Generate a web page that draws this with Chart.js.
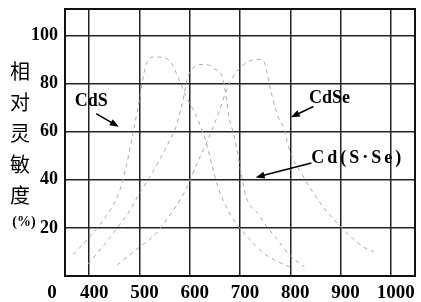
<!DOCTYPE html>
<html>
<head>
<meta charset="utf-8">
<script src="https://cdn.jsdelivr.net/npm/chart.js@4.4.1/dist/chart.umd.min.js"></script>
<style>
  html, body { margin: 0; padding: 0; background: #fff; }
  #wrap { width: 421px; height: 302px; position: relative; }
</style>
</head>
<body>
<div id="wrap"><canvas id="chart"></canvas></div>
<script>
// axis ticks
var xTicks = [400, 500, 600, 700, 800, 900, 1000];
var yTicks = [20, 40, 60, 80, 100];

// CdS
var cdsWave  = [368, 382, 400, 420, 442, 460, 472, 485, 498, 512, 525, 540, 562, 578, 592, 612, 632, 648, 656, 672, 692, 720, 746, 775, 802];
var cdsValue = [9, 12, 16, 21, 27.5, 35, 44, 57, 71, 87, 91, 91, 89, 82, 75, 67, 56, 43, 37, 29, 22, 15, 9.6, 6, 3.5];

// Cd(S.Se)
var cdsseWave  = [398, 430, 456, 480, 502, 520, 538, 556, 572, 586, 596, 610, 630, 650, 666, 672, 678, 686, 692, 702, 712, 738, 755, 772, 798, 828];
var cdsseValue = [5, 13, 20, 27, 35, 41, 47.5, 54.6, 61.7, 72.5, 82.5, 87, 88, 86, 82, 75, 66, 60, 54.6, 43, 33, 25.4, 20, 15.8, 8.8, 3.8];

// CdSe
var cdseWave  = [456, 498, 530, 556, 590, 616, 632, 646, 658, 672, 690, 715, 740, 750, 758, 770, 778, 788, 796, 808, 818, 846, 868, 902, 922, 946, 966];
var cdseValue = [4.6, 11.7, 17, 24, 35, 47.5, 54.6, 61.7, 68, 76.7, 84, 89, 90, 88, 80, 70, 65, 61, 54, 47.5, 44, 34.6, 28, 20, 16, 12, 10];

function toPoints(xs, ys) {
  return xs.map(function (x, i) { return { x: x, y: ys[i] }; });
}

function curve(label, xs, ys) {
  return {
    label: label,
    data: toPoints(xs, ys),
    borderColor: '#a8a8a8',
    borderWidth: 1,
    borderDash: [4, 4],
    pointRadius: 0,
    fill: false,
    cubicInterpolationMode: 'monotone',
  };
}

var serif = '"Liberation Serif", "Times New Roman", serif';

// text notes with arrows, in data units
var notes = [
  { text: 'CdS', x: 404, y: 72.5, from: [414, 67.5], to: [459, 62] },
  { text: 'CdSe', x: 878, y: 74, from: [846, 70.5], to: [801, 66] },
  { text: 'Cd(S·Se)', x: 934, y: 49, spacing: 3, from: [842, 47], to: [731, 41] },
];

function drawArrow(ctx, x1, y1, x2, y2) {
  var a = Math.atan2(y2 - y1, x2 - x1);
  var len = 9, w = 3.5;
  ctx.beginPath();
  ctx.moveTo(x1, y1);
  ctx.lineTo(x2 - Math.cos(a) * len * 0.6, y2 - Math.sin(a) * len * 0.6);
  ctx.stroke();
  ctx.beginPath();
  ctx.moveTo(x2, y2);
  ctx.lineTo(x2 - Math.cos(a) * len - Math.sin(a) * w, y2 - Math.sin(a) * len + Math.cos(a) * w);
  ctx.lineTo(x2 - Math.cos(a) * len + Math.sin(a) * w, y2 - Math.sin(a) * len - Math.cos(a) * w);
  ctx.closePath();
  ctx.fill();
}

var decor = {
  id: 'decor',
  afterDraw: function (chart) {
    var ctx = chart.ctx, area = chart.chartArea;
    var xs = chart.scales.x, ys = chart.scales.y;
    ctx.save();
    // frame
    ctx.strokeStyle = '#111';
    ctx.lineWidth = 2;
    ctx.strokeRect(area.left, area.top, area.right - area.left, area.bottom - area.top);

    // notes
    ctx.fillStyle = '#000';
    ctx.strokeStyle = '#000';
    ctx.lineWidth = 1.6;
    ctx.font = 'bold 18px ' + serif;
    ctx.textAlign = 'center';
    ctx.textBaseline = 'middle';
    notes.forEach(function (n) {
      ctx.letterSpacing = (n.spacing || 0) + 'px';
      ctx.fillText(n.text, xs.getPixelForValue(n.x), ys.getPixelForValue(n.y));
      drawArrow(ctx, xs.getPixelForValue(n.from[0]), ys.getPixelForValue(n.from[1]),
        xs.getPixelForValue(n.to[0]), ys.getPixelForValue(n.to[1]));
    });
    ctx.letterSpacing = '0px';

    // origin label
    ctx.font = 'bold 19px ' + serif;
    ctx.fillText('0', area.left - 13, area.bottom + 17);

    // vertical y title
    ctx.font = '20px "Noto Sans CJK SC", sans-serif';
    var title = '相对灵敏度';
    for (var i = 0; i < title.length; i++) {
      ctx.fillText(title[i], 20, 71 + i * 31);
    }
    ctx.font = 'bold 14px ' + serif;
    ctx.fillText('(%)', 24, 222);
    ctx.restore();
  },
};

new Chart(document.getElementById('chart'), {
  type: 'line',
  data: {
    datasets: [
      curve('CdS', cdsWave, cdsValue),
      curve('Cd(S·Se)', cdsseWave, cdsseValue),
      curve('CdSe', cdseWave, cdseValue),
    ],
  },
  options: {
    responsive: true,
    maintainAspectRatio: false,
    animation: false,
    layout: { padding: { top: 9, right: 6, left: 0, bottom: 0 } },
    plugins: {
      legend: { display: false },
      tooltip: { enabled: false },
    },
    scales: {
      x: {
        type: 'linear',
        min: 352,
        max: 1048,
        afterBuildTicks: function (scale) {
          scale.ticks = xTicks.map(function (v) { return { value: v }; });
        },
        afterFit: function (scale) {
          scale.height = 26;
          scale.paddingLeft = 0;
          scale.paddingRight = 0;
        },
        grid: { color: '#222', lineWidth: 1.5, drawTicks: false },
        border: { color: '#111', width: 2 },
        ticks: {
          color: '#000',
          padding: 6,
          labelOffset: 5,
          maxRotation: 0,
          callback: function (v) { return String(v); },
          font: { family: serif, size: 19, weight: 'bold' },
        },
      },
      y: {
        min: 0,
        max: 111,
        afterBuildTicks: function (scale) {
          scale.ticks = yTicks.map(function (v) { return { value: v }; });
        },
        afterFit: function (scale) {
          scale.width = 65;
          scale.paddingTop = 0;
          scale.paddingBottom = 0;
        },
        grid: { color: '#222', lineWidth: 1.5, drawTicks: false },
        border: { color: '#111', width: 2 },
        ticks: {
          color: '#000',
          padding: 7,
          callback: function (v) { return String(v); },
          font: { family: serif, size: 18, weight: 'bold' },
        },
      },
    },
  },
  plugins: [decor],
});
</script>
</body>
</html>
